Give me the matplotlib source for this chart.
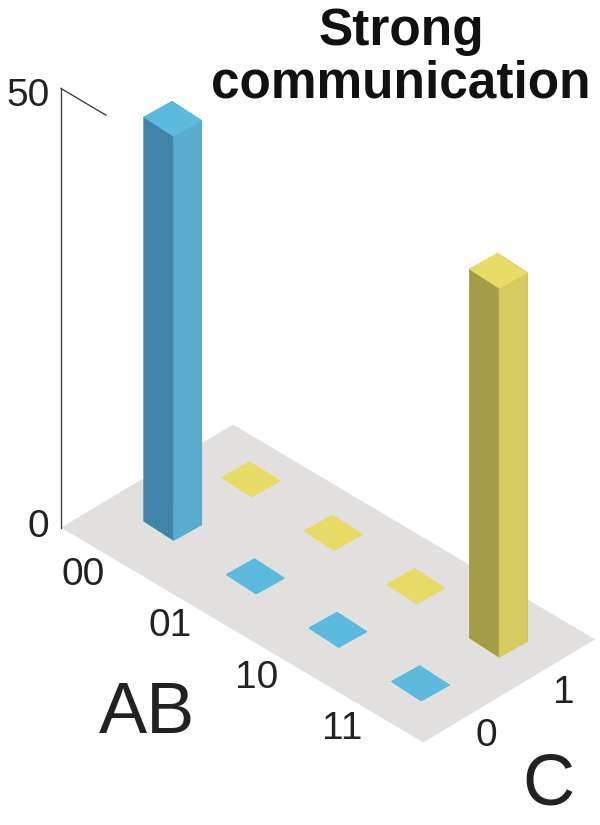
import numpy as np
import matplotlib
matplotlib.use('Agg')
import matplotlib.pyplot as plt
from mpl_toolkits.mplot3d import proj3d
from mpl_toolkits.mplot3d.art3d import Poly3DCollection

ab_labels = ['00', '01', '10', '11']
c_labels = ['0', '1']
count_c0 = [46, 0, 0, 0]   # C = 0 (blue)
count_c1 = [0, 0, 0, 42]   # C = 1 (yellow)
z_ticks = [0, 50]

plt.rcParams['font.family'] = ['Liberation Sans', 'DejaVu Sans']

fig = plt.figure(figsize=(6, 8.25), dpi=100)
ax = fig.add_axes([0, 0, 1, 1], projection='3d', proj_type='ortho')
ax.computed_zorder = False

# floor corners (left, front, right, back) - the floor sits slightly askew
floor_xy = np.array([[-0.58, -0.82], [3.61, -0.61], [3.54, 1.67], [-0.65, 1.46]])
fx0, fy0 = floor_xy[0]
ax.set_xlim(floor_xy[:, 0].min(), floor_xy[:, 0].max())
ax.set_ylim(floor_xy[:, 1].min(), floor_xy[:, 1].max())
ax.set_zlim(0, 50)
xr = np.ptp(floor_xy[:, 0])
yr = np.ptp(floor_xy[:, 1])
ax.set_box_aspect((121.3 * xr, 106.4 * yr, 11.0 * 50))
ax.view_init(elev=37, azim=-42.9)
ax.set_axis_off()

floor = Poly3DCollection([[(x, y, 0) for x, y in floor_xy]],
                         facecolor='#e2e0df', edgecolor='none', zorder=0)
ax.add_collection3d(floor)

# bars: faces ordered -z, +z, -y, +y, -x, +x
w = 0.36
blue = ('#5dbadf', '#4085a7', '#5aaccf')     # top, left, right
yellow = ('#e8dc66', '#a49c47', '#d6cb60')
xs, ys, dz, cols = [], [], [], []
for c, (counts, pal) in enumerate([(count_c0, blue), (count_c1, yellow)]):
    top, left, right = pal
    for i, v in enumerate(counts):
        xs.append(i - w / 2)
        ys.append(c - w / 2)
        dz.append(v)
        if v > 0:
            cols += [top, top, left, left, right, right]
        else:
            cols += [top] * 6
ax.bar3d(xs, ys, np.zeros(len(xs)), w, w, dz, color=cols, edgecolor=cols,
         linewidth=0.5, shade=False, zorder=2)

# z axis at the left floor corner
ax.plot([fx0, fx0], [fy0, fy0], [0, 50], color='#444444', lw=1, zorder=3)
ax.plot([fx0, fx0 + 0.52], [fy0, fy0 + 0.026], [50, 50], color='#444444', lw=1, zorder=3)

# place the 3D box so the floor and bars land where they should
fig.canvas.draw()
pts = np.array([[*floor_xy[0], 0], [*floor_xy[1], 0], [*floor_xy[2], 0], [*floor_xy[3], 0],
                [fx0, fy0, 50],
                [0, 0, 0], [1, 0, 0], [2, 0, 0], [3, 0, 0],
                [0, 1, 0], [1, 1, 0], [2, 1, 0], [3, 1, 0]], float)
target = np.array([[61, 528], [423, 743], [595, 640], [233, 425], [61, 88],
                   [174, 522], [255, 577], [337, 628], [422, 685],
                   [252, 479], [333, 533], [414, 585], [498, 640]], float)
target[:, 1] = 825 - target[:, 1]
px, py, _ = proj3d.proj_transform(pts[:, 0], pts[:, 1], pts[:, 2], ax.get_proj())
cur = ax.transData.transform(np.column_stack([px, py]))
pm, qm = cur.mean(0), target.mean(0)
s = ((cur - pm) * (target - qm)).sum() / ((cur - pm) ** 2).sum()
t = qm - s * pm
bb = ax.get_position()
W, H = fig.bbox.width, fig.bbox.height
cx, cy = (bb.x0 + bb.x1) / 2 * W, (bb.y0 + bb.y1) / 2 * H
L = bb.width * W * s
ncx, ncy = s * cx + t[0], s * cy + t[1]
ax.set_position([(ncx - L / 2) / W, (ncy - L / 2) / H, L / W, L / H])
fig.canvas.draw()


def label(x, y, z, txt, size, ha='center'):
    X, Y, _ = proj3d.proj_transform(x, y, z, ax.get_proj())
    dx, dy = ax.transData.transform((X, Y))
    fig.text(dx / W, dy / H, txt, ha=ha, va='center', fontsize=size, color='#222222')


# labels follow the front floor edge
skew = (floor_xy[1, 1] - floor_xy[0, 1]) / (floor_xy[1, 0] - floor_xy[0, 0])
for z, zs in zip(z_ticks, [0.1, -0.8]):
    label(fx0 - 0.065, fy0 - 0.08, z + zs, str(z), 28, ha='right')
for i, lab in enumerate(ab_labels):
    x = i + 0.02
    label(x, fy0 + (x - fx0) * skew - 0.38, 0, lab, 28)
for c, lab in enumerate(c_labels):
    label(3.90, c - 0.11, 0, lab, 28)
label(1.78, -2.22, 0, 'AB', 52)
label(4.75, -0.21, 0, 'C', 52)

fig.text(401 / 600, 1 - 7 / 825, 'Strong\ncommunication', ha='center', va='top',
         fontsize=37, fontweight='bold', linespacing=1.09, color='#111111')

fig.savefig('out.png', dpi=100)
